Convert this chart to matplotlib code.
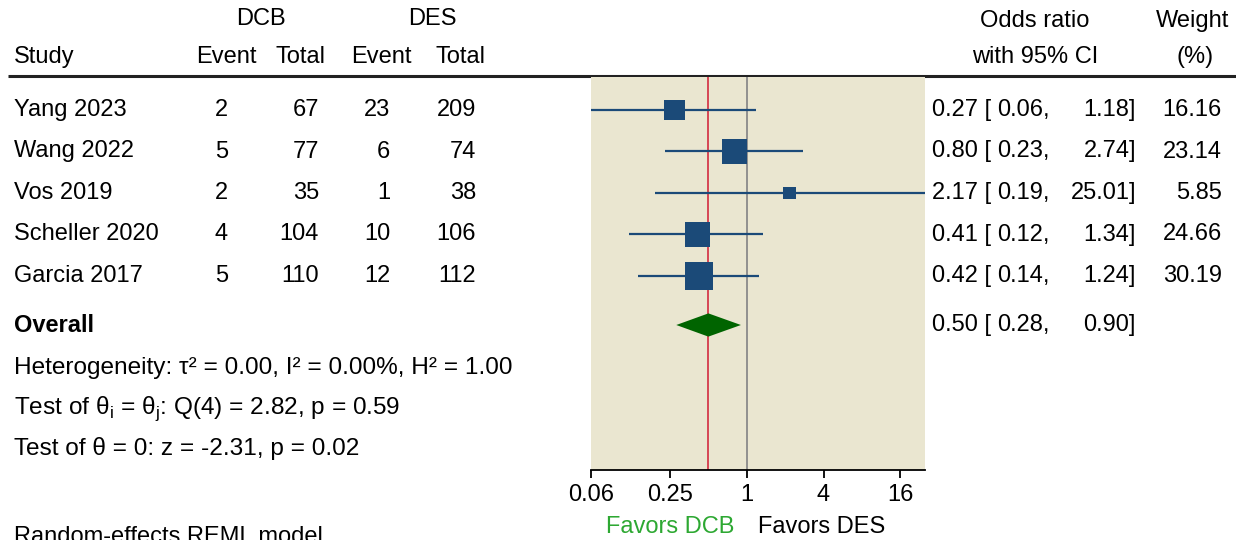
import matplotlib
matplotlib.use("Agg")
import matplotlib.pyplot as plt
import numpy as np

plt.rcParams['font.family'] = ['Liberation Sans', 'DejaVu Sans']
plt.rcParams['mathtext.fontset'] = 'custom'
plt.rcParams['mathtext.rm'] = 'Liberation Sans'

# data
studies = ["Yang 2023", "Wang 2022", "Vos 2019", "Scheller 2020", "Garcia 2017"]
dcb_event = [2, 5, 2, 4, 5]
dcb_total = [67, 77, 35, 104, 110]
des_event = [23, 6, 1, 10, 12]
des_total = [209, 74, 38, 106, 112]
odds = [0.27, 0.80, 2.17, 0.41, 0.42]
ci_low = [0.06, 0.23, 0.19, 0.12, 0.14]
ci_high = [1.18, 2.74, 25.01, 1.34, 1.24]
weight = [16.16, 23.14, 5.85, 24.66, 30.19]
overall_or = 0.50
overall_low = 0.28
overall_high = 0.90
xticks = [0.06, 0.25, 1, 4, 16]
xtick_labels = ["0.06", "0.25", "1", "4", "16"]

W, H = 1236, 540
fs = 17
blue = '#1B4A78'

fig = plt.figure(figsize=(W / 100, H / 100), dpi=100)

# text layer in pixel coordinates
tx = fig.add_axes([0, 0, 1, 1])
tx.set_xlim(0, W)
tx.set_ylim(H, 0)
tx.axis('off')

def row_y(i):
    return 110 + 41.5 * i

# header
tx.text(261, 19, "DCB", ha='center', va='center', fontsize=fs)
tx.text(432, 19, "DES", ha='center', va='center', fontsize=fs)
tx.text(14, 57, "Study", ha='left', va='center', fontsize=fs)
tx.text(226, 57, "Event", ha='center', va='center', fontsize=fs)
tx.text(301, 57, "Total", ha='center', va='center', fontsize=fs)
tx.text(381, 57, "Event", ha='center', va='center', fontsize=fs)
tx.text(460, 57, "Total", ha='center', va='center', fontsize=fs)
tx.text(1035, 21, "Odds ratio", ha='center', va='center', fontsize=fs)
tx.text(1035, 57, "with 95% CI", ha='center', va='center', fontsize=fs)
tx.text(1193, 21, "Weight", ha='center', va='center', fontsize=fs)
tx.text(1195, 57, "(%)", ha='center', va='center', fontsize=fs)
tx.plot([8, W], [76, 76], color='#222222', lw=2.2, solid_capstyle='butt')

for i, s in enumerate(studies):
    y = row_y(i)
    tx.text(14, y, s, ha='left', va='center', fontsize=fs)
    tx.text(228, y, str(dcb_event[i]), ha='right', va='center', fontsize=fs)
    tx.text(319, y, str(dcb_total[i]), ha='right', va='center', fontsize=fs)
    tx.text(390, y, str(des_event[i]), ha='right', va='center', fontsize=fs)
    tx.text(476, y, str(des_total[i]), ha='right', va='center', fontsize=fs)
    tx.text(932, y, f"{odds[i]:.2f} [", ha='left', va='center', fontsize=fs)
    tx.text(1050, y, f"{ci_low[i]:.2f},", ha='right', va='center', fontsize=fs)
    tx.text(1136, y, f"{ci_high[i]:.2f}]", ha='right', va='center', fontsize=fs)
    tx.text(1222, y, f"{weight[i]:.2f}", ha='right', va='center', fontsize=fs)

y_ov = 325
tx.text(14, y_ov, "Overall", ha='left', va='center', fontsize=fs, fontweight='bold')
tx.text(932, y_ov, f"{overall_or:.2f} [", ha='left', va='center', fontsize=fs)
tx.text(1050, y_ov, f"{overall_low:.2f},", ha='right', va='center', fontsize=fs)
tx.text(1136, y_ov, f"{overall_high:.2f}]", ha='right', va='center', fontsize=fs)

fs2 = 17.6
tx.text(14, 368, "Heterogeneity: τ² = 0.00, I² = 0.00%, H² = 1.00",
        ha='left', va='center', fontsize=fs2)
tx.text(14, 409, r"Test of θ$_\mathregular{i}$ = θ$_\mathregular{j}$: Q(4) = 2.82, p = 0.59",
        ha='left', va='center', fontsize=fs2)
tx.text(14, 449, "Test of θ = 0: z = -2.31, p = 0.02",
        ha='left', va='center', fontsize=fs2)
tx.text(14, 543, "Random-effects REML model", ha='left', va='baseline', fontsize=fs)

tx.text(670, 527, "Favors DCB", ha='center', va='center', fontsize=fs, color='#2DA832')
tx.text(822, 527, "Favors DES", ha='center', va='center', fontsize=fs, color='black')

# forest panel
top_px, bot_px, left_px, right_px = 77, 470, 591, 925
ax = fig.add_axes([left_px / W, 1 - bot_px / H, (right_px - left_px) / W, (bot_px - top_px) / H])
ax.set_facecolor('#EAE6D0')
ax.set_xscale('log')
ax.set_xlim(0.06, 25.01)
ax.set_ylim((bot_px - 110) / 41.5, (top_px - 110) / 41.5)

rows = np.arange(len(studies))
ax.axvline(1, color='#8a8a8a', lw=1.3, zorder=1)
ax.axvline(overall_or, color='#D43A4A', lw=1.3, zorder=1)
ax.hlines(rows, ci_low, ci_high, color=blue, lw=1.6, zorder=2, clip_on=False)
side = 5.15 * np.sqrt(weight) * 0.72
ax.scatter(odds, rows, s=side ** 2, marker='s', color=blue, linewidths=0, zorder=3)

ov_row = (y_ov - 110) / 41.5
dh = 0.28
ax.fill([overall_low, overall_or, overall_high, overall_or],
        [ov_row, ov_row - dh, ov_row, ov_row + dh], color='#006400', lw=0, zorder=3)

for sp in ['top', 'left', 'right']:
    ax.spines[sp].set_visible(False)
ax.spines['bottom'].set_linewidth(1.3)
ax.set_yticks([])
ax.set_xticks(xticks)
ax.set_xticklabels(xtick_labels)
ax.minorticks_off()
ax.tick_params(axis='x', direction='out', length=6, width=1.3, labelsize=fs, pad=4)

fig.savefig("out.png", dpi=100)
